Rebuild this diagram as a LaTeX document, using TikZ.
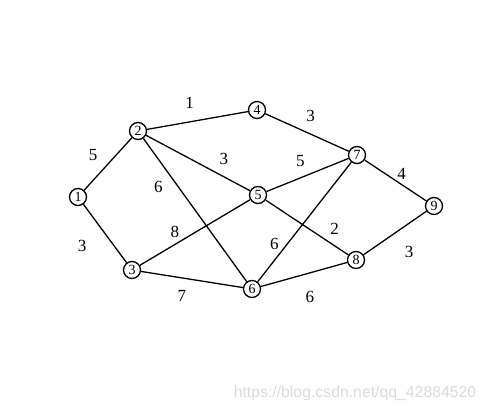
\documentclass[tikz,border=0pt]{standalone}
\usepackage{fontspec}
\setmainfont{Liberation Serif}
\newfontfamily\markfont{Liberation Sans}
\usetikzlibrary{positioning}
\tikzset{
x=1pt, y=-1pt, % pixel-like units, y runs downwards
vtx/.style={circle, draw, line width=1.3pt, minimum size=17pt, inner sep=0pt, font=\fontsize{14}{14}\selectfont}, % circled vertex
wt/.style={inner sep=0pt, font=\fontsize{17}{17}\selectfont}, % edge weight
every edge/.style={draw, line width=1.3pt},
}
\begin{document}
\begin{tikzpicture}
\useasboundingbox (0,0) rectangle (486,411);
\node[vtx] (v1) at (78,197) {1};
\node[vtx] (v2) at (138,131) {2};
\node[vtx] (v3) at (132,270) {3};
\node[vtx] (v4) at (257,110) {4};
\node[vtx] (v5) at (258,195) {5};
\node[vtx] (v6) at (252,289) {6};
\node[vtx] (v7) at (357,155) {7};
\node[vtx] (v8) at (356,260) {8};
\node[vtx] (v9) at (434,206) {9};
\draw
    (v1) edge node[wt, pos=.5, xshift=-15, yshift=8.5]{5} (v2)
    (v1) edge node[wt, pos=.5, xshift=-23, yshift=-12]{3} (v3)
    (v2) edge node[wt, pos=.5, xshift=-8, yshift=18]{1} (v4)
    (v2) edge node[wt, pos=.75, xshift=0, yshift=18]{3} (v5)
    (v2) edge node[wt, pos=.3, xshift=-16, yshift=-6]{6} (v6)
    (v3) edge node[wt, pos=.3, xshift=2, yshift=13.5]{8} (v5)
    (v3) edge node[wt, pos=.4, xshift=0, yshift=-18]{7} (v6)
    (v4) edge node[wt, pos=.5, xshift=3.5, yshift=17]{3} (v7)
    (v5) edge node[wt, pos=.4, xshift=1, yshift=17]{5} (v7)
    (v5) edge node[wt, pos=.75, xshift=7, yshift=12]{2} (v8)
    (v6) edge node[wt, pos=.3, xshift=-11.5, yshift=1.5]{6} (v7)
    (v6) edge node[wt, pos=.55, xshift=1.5, yshift=-23.5]{6} (v8)
    (v7) edge node[wt, pos=.55, xshift=3, yshift=9]{4} (v9)
    (v8) edge node[wt, pos=.5, xshift=14, yshift=-19]{3} (v9)
    ;
\node[text=black!14, font=\markfont\fontsize{15.8}{16}\selectfont] (mark) at (355,393) {https://blog.csdn.net/qq\_42884520};
\end{tikzpicture}
\end{document}
